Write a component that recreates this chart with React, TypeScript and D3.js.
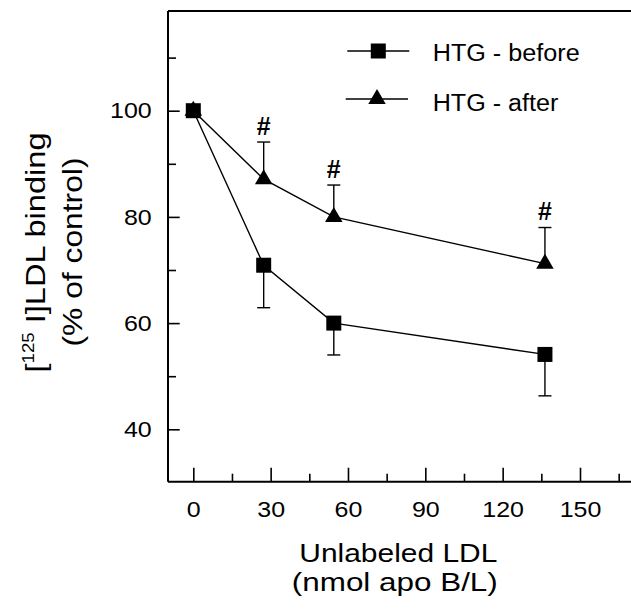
import React, { useEffect, useRef } from "react";
import * as d3 from "d3";

const xValues = [0, 27.3, 54.5, 136.4];
const beforeValues = [100, 70.9, 60, 54.1];
const beforeErrLow = [0, 8, 6, 7.8];
const afterValues = [100, 87.1, 80, 71.2];
const afterErrHigh = [0, 7, 6, 6.8];
const significant = [false, true, true, true];
const xMajorTicks = [0, 30, 60, 90, 120, 150];
const xMinorTicks = [15, 45, 75, 105, 135, 165];
const yMajorTicks = [40, 60, 80, 100];
const yMinorTicks = [50, 70, 90, 110];
const legendLabels = ["HTG - before", "HTG - after"];

const FONT = "'Liberation Sans', Arial, Helvetica, sans-serif";
const W = 631;
const H = 610;
const AXIS_X = 168;
const AXIS_Y = 481.7;
const TOP_Y = 11;

const x = d3.scaleLinear().domain([0, 150]).range([193.3, 580]);
const y = d3.scaleLinear().domain([40, 100]).range([429.3, 110.7]);

function Square({ cx, cy, s = 15 }: { cx: number; cy: number; s?: number }) {
  return <rect x={cx - s / 2} y={cy - s / 2} width={s} height={s} fill="#000" />;
}
function Triangle({ cx, cy }: { cx: number; cy: number }) {
  const w = 17.5;
  const up = 10;
  const down = 5;
  return (
    <path
      d={`M${cx},${cy - up} L${cx + w / 2},${cy + down} L${cx - w / 2},${cy + down} Z`}
      fill="#000"
    />
  );
}

export default function App() {
  const xAxisRef = useRef<SVGGElement>(null);
  const yAxisRef = useRef<SVGGElement>(null);

  useEffect(() => {
    const gx = d3.select(xAxisRef.current!);
    gx.selectAll("*").remove();
    const major = gx.append("g");
    major.call(
      d3.axisBottom(x).tickValues(xMajorTicks).tickSize(-14).tickPadding(19.3).tickFormat(d3.format("d"))
    );
    const minor = gx.append("g");
    minor.call(d3.axisBottom(x).tickValues(xMinorTicks).tickSize(-8).tickFormat(() => ""));
    gx.selectAll(".domain").remove();
    gx.selectAll("line").attr("stroke", "#000").attr("stroke-width", 1.6);
    gx.selectAll("text")
      .attr("fill", "#000")
      .style("font-family", FONT)
      .style("font-size", "22.5px")
      .attr("textLength", (d: any) => String(d).length * 13.9)
      .attr("lengthAdjust", "spacingAndGlyphs");

    const gy = d3.select(yAxisRef.current!);
    gy.selectAll("*").remove();
    const ymaj = gy.append("g");
    ymaj.call(d3.axisLeft(y).tickValues(yMajorTicks).tickSize(-11.7).tickPadding(16.3).tickFormat(d3.format("d")));
    const ymin = gy.append("g");
    ymin.call(d3.axisLeft(y).tickValues(yMinorTicks).tickSize(-8).tickFormat(() => ""));
    gy.selectAll(".domain").remove();
    gy.selectAll("line").attr("stroke", "#000").attr("stroke-width", 1.6);
    gy.selectAll("text")
      .attr("fill", "#000")
      .style("font-family", FONT)
      .style("font-size", "22.5px")
      .attr("textLength", (d: any) => String(d).length * 13.9)
      .attr("lengthAdjust", "spacingAndGlyphs");
  }, []);

  const line = d3
    .line<number>()
    .x((_, i) => x(xValues[i]))
    .y((v) => y(v));

  return (
    <svg
      width={W}
      height={H}
      style={{ position: "absolute", left: 0, top: 0, background: "#fff" }}
      fontFamily={FONT}
    >
      <rect x={0} y={0} width={W} height={H} fill="#fff" />
      {/* frame */}
      <line x1={AXIS_X} x2={W} y1={TOP_Y} y2={TOP_Y} stroke="#000" strokeWidth={2} />
      <line x1={AXIS_X} x2={AXIS_X} y1={TOP_Y} y2={AXIS_Y} stroke="#000" strokeWidth={2} />
      <line x1={AXIS_X} x2={W} y1={AXIS_Y} y2={AXIS_Y} stroke="#000" strokeWidth={2} />
      <g ref={xAxisRef} transform={`translate(0,${AXIS_Y})`} />
      <g ref={yAxisRef} transform={`translate(${AXIS_X},0)`} />

      {/* error bars: after (up) */}
      {afterValues.map((v, i) =>
        afterErrHigh[i] > 0 ? (
          <g key={`ea${i}`} stroke="#000" strokeWidth={1.4}>
            <line x1={x(xValues[i])} x2={x(xValues[i])} y1={y(v)} y2={y(v + afterErrHigh[i])} />
            <line x1={x(xValues[i]) - 6.5} x2={x(xValues[i]) + 6.5} y1={y(v + afterErrHigh[i])} y2={y(v + afterErrHigh[i])} />
          </g>
        ) : null
      )}
      {/* error bars: before (down) */}
      {beforeValues.map((v, i) =>
        beforeErrLow[i] > 0 ? (
          <g key={`eb${i}`} stroke="#000" strokeWidth={1.4}>
            <line x1={x(xValues[i])} x2={x(xValues[i])} y1={y(v)} y2={y(v - beforeErrLow[i])} />
            <line x1={x(xValues[i]) - 6.5} x2={x(xValues[i]) + 6.5} y1={y(v - beforeErrLow[i])} y2={y(v - beforeErrLow[i])} />
          </g>
        ) : null
      )}

      {/* lines */}
      <path d={line(afterValues) || ""} fill="none" stroke="#000" strokeWidth={1.4} />
      <path d={line(beforeValues) || ""} fill="none" stroke="#000" strokeWidth={1.4} />

      {/* markers */}
      {afterValues.map((v, i) => (
        <Triangle key={`ta${i}`} cx={x(xValues[i])} cy={y(v)} />
      ))}
      {beforeValues.map((v, i) => (
        <Square key={`sb${i}`} cx={x(xValues[i])} cy={y(v)} />
      ))}

      {/* significance marks */}
      {afterValues.map((v, i) =>
        significant[i] ? (
          <text
            key={`h${i}`}
            x={x(xValues[i])}
            y={y(v + afterErrHigh[i]) - 7.5}
            textAnchor="middle"
            fontSize={25}
            fontWeight="bold"
            fill="#000"
          >
            #
          </text>
        ) : null
      )}

      {/* legend */}
      <line x1={347.3} x2={409.3} y1={51} y2={51} stroke="#000" strokeWidth={1.4} />
      <Square cx={378.3} cy={51} />
      <text x={432.7} y={60.7} fontSize={23.5} fill="#000" textLength={147} lengthAdjust="spacingAndGlyphs">
        {legendLabels[0]}
      </text>
      <line x1={345.7} x2={408} y1={99} y2={99} stroke="#000" strokeWidth={1.4} />
      <Triangle cx={377} cy={99} />
      <text x={432.7} y={110.7} fontSize={23.5} fill="#000" textLength={125.7} lengthAdjust="spacingAndGlyphs">
        {legendLabels[1]}
      </text>

      {/* x axis title */}
      <text x={398.3} y={562.3} textAnchor="middle" fontSize={26} fill="#000" textLength={198} lengthAdjust="spacingAndGlyphs">
        Unlabeled LDL
      </text>
      <text x={394.8} y={591} textAnchor="middle" fontSize={26} fill="#000" textLength={206} lengthAdjust="spacingAndGlyphs">
        (nmol apo B/L)
      </text>

      {/* y axis title */}
      <text
        transform="translate(45,252.5) rotate(-90)"
        textAnchor="middle"
        fontSize={28}
        fill="#000"
        textLength={240}
        lengthAdjust="spacingAndGlyphs"
      >
        [<tspan fontSize={16} dy={-11}>125</tspan>
        <tspan dy={11}> I]LDL binding</tspan>
      </text>
      <text
        transform="translate(82,252) rotate(-90)"
        textAnchor="middle"
        fontSize={28}
        fill="#000"
        textLength={189}
        lengthAdjust="spacingAndGlyphs"
      >
        (% of control)
      </text>
    </svg>
  );
}
